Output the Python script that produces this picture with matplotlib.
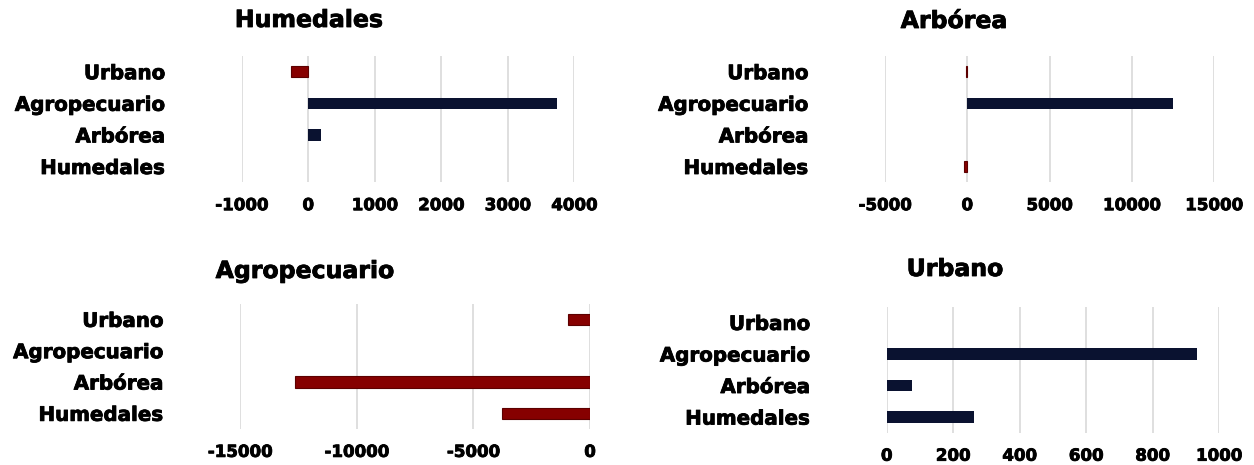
import matplotlib.pyplot as plt
import matplotlib.patheffects as pe

# categories bottom -> top, as in the chart
categories = ['Humedales', 'Arbórea', 'Agropecuario', 'Urbano']

humedales = [0, 190, 3745, -265]
arborea = [-190, 0, 12530, -75]
agropecuario = [-3755, -12640, 0, -950]
urbano = [262, 75, 935, 0]

titles = ['Humedales', 'Arbórea', 'Agropecuario', 'Urbano']
series = [humedales, arborea, agropecuario, urbano]
xticks = [
    [-1000, 0, 1000, 2000, 3000, 4000],
    [-5000, 0, 5000, 10000, 15000],
    [-15000, -10000, -5000, 0],
    [0, 200, 400, 600, 800, 1000],
]

W, H = 1254, 465
# axes boxes in pixels: left, top, right, bottom
boxes = [
    (241.7, 55.9, 574.3, 182.3),
    (885.0, 55.9, 1214.0, 182.3),
    (240.0, 303.7, 590.0, 429.0),
    (886.7, 306.7, 1219.0, 432.8),
]
# title centres in pixels
title_pos = [(309, 20), (954, 21), (305, 271), (955, 269)]

navy = '#0a1230'
red = '#860000'
red_edge = '#5c0000'
grid = '#d9d9d9'

plt.rcParams['font.family'] = 'DejaVu Sans'
plt.rcParams['font.weight'] = 'bold'

heavy = [pe.withStroke(linewidth=0.6, foreground='black')]

fig = plt.figure(figsize=(W / 100, H / 100), dpi=100)

for i in range(4):
    l, t, r, b = boxes[i]
    ax = fig.add_axes([l / W, 1 - b / H, (r - l) / W, (b - t) / H])
    vals = series[i]
    colors = [red if v < 0 else navy for v in vals]
    edges = [red_edge if v < 0 else navy for v in vals]
    widths = [0.8 if v < 0 else 0 for v in vals]
    ax.barh(range(len(categories)), vals, height=0.36, color=colors,
            edgecolor=edges, linewidth=widths, zorder=3)
    ax.set_xlim(xticks[i][0], xticks[i][-1])
    ax.set_ylim(-0.5, len(categories) - 0.5)
    ax.set_xticks(xticks[i])
    ax.set_xticklabels([str(v) for v in xticks[i]], fontsize=12, fontweight='bold')
    ax.set_yticks(range(len(categories)))
    ax.set_yticklabels(categories, fontsize=14.3, fontweight='bold')
    for lab in ax.get_xticklabels() + ax.get_yticklabels():
        lab.set_path_effects(heavy)
    ax.tick_params(axis='x', length=0, pad=10)
    ax.tick_params(axis='y', length=0, pad=55)
    ax.grid(axis='x', color=grid, linewidth=1.2, zorder=0)
    for s in ax.spines.values():
        s.set_visible(False)
    ax.set_facecolor('white')
    fig.text(title_pos[i][0] / W, 1 - title_pos[i][1] / H, titles[i],
             fontsize=17, fontweight='bold', ha='center', va='center',
             path_effects=heavy)

fig.savefig('out.png', dpi=100, facecolor='white')
